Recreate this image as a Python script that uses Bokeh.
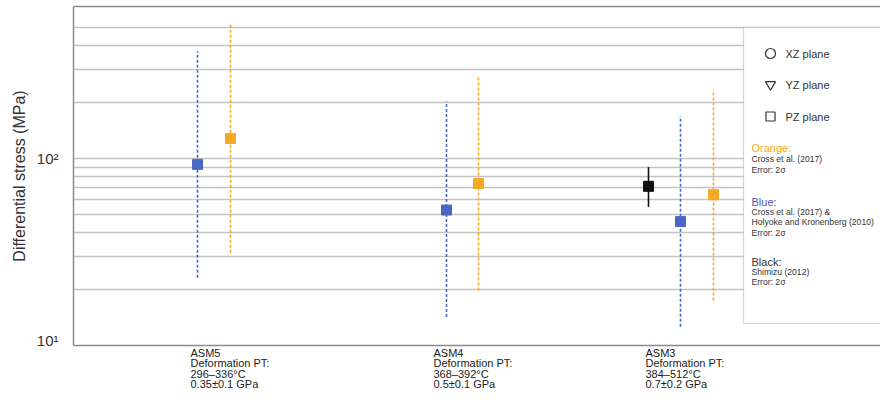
from bokeh.plotting import figure
from bokeh.layouts import column
from bokeh.models import (Range1d, FixedTicker, BoxAnnotation, Label, ColumnDataSource,
                          LinearAxis)
from bokeh.core.properties import value
from bokeh.embed import file_html
from bokeh.resources import INLINE

# ---------------- data ----------------
samples = ["ASM5", "ASM4", "ASM3"]
pt_heading = "Deformation PT:"
temperatures = ["296–336°C", "368–392°C", "384–512°C"]
pressures = ["0.35±0.1 GPa", "0.5±0.1 GPa", "0.7±0.2 GPa"]

# Blue: Cross et al. (2017) & Holyoke and Kronenberg (2010)
blue_stress = [93, 53, 46]
blue_low = [23, 14.2, 12.6]
blue_high = [375, 202, 168]

# Orange: Cross et al. (2017)
orange_stress = [128, 73.5, 64]
orange_low = [31.3, 19.7, 17.4]
orange_high = [521, 278, 233]

# Black: Shimizu (2012)
black_samples = ["ASM3"]
black_stress = [71]
black_low = [55]
black_high = [90]

y_tick_values = [10, 100]
y_tick_labels = ["10¹", "10²"]
grid_values = [20, 30, 40, 50, 60, 70, 80, 90, 100, 200, 300, 400, 500]

legend_markers = ["circle", "inverted_triangle", "square"]
legend_planes = ["XZ plane", "YZ plane", "PZ plane"]

# ---------------- layout ----------------
FONT = "Liberation Sans"
BLUE = "#4868c4"
ORANGE = "#f6a925"
BLACK = "#111111"
AXIS = "#8a8a8a"

W, H = 880, 393
LEFT, TOP, BOTTOM = 73, 6, 345
MAIN_H = 348
PX_DEC = 187.0   # pixels per decade on the y axis

# horizontal positions on a pixel-like x scale
label_left = {"ASM5": 190, "ASM4": 433, "ASM3": 645}
blue_x = {"ASM5": 197, "ASM4": 446, "ASM3": 680}
orange_x = {"ASM5": 230, "ASM4": 478, "ASM3": 713}
black_x = {"ASM3": 648}
line_y = [352, 362.5, 373, 383.5]


def ylog(py):
    return 10 ** (1 + (BOTTOM - py) / PX_DEC)


y_top = ylog(TOP)

p = figure(width=W, height=MAIN_H, y_axis_type="log",
           x_range=Range1d(LEFT, W), y_range=Range1d(10, y_top),
           output_backend="svg", toolbar_location=None,
           min_border_left=LEFT, min_border_right=0, min_border_top=TOP,
           min_border_bottom=MAIN_H - BOTTOM)
p.outline_line_color = None
p.background_fill_color = "white"
p.border_fill_color = "white"

# bottom axis: line only
p.xaxis.ticker = FixedTicker(ticks=[])
p.xaxis.major_tick_line_color = None
p.xaxis.major_tick_out = 0
p.xaxis.minor_tick_line_color = None
p.xaxis.minor_tick_out = 0
p.xaxis.major_label_standoff = 0
p.xaxis.major_label_text_font_size = "0px"
p.xaxis.axis_line_color = AXIS
p.xaxis.axis_line_width = 1.5

# top border
top_axis = LinearAxis(ticker=FixedTicker(ticks=[]), major_tick_line_color=None,
                      minor_tick_line_color=None, major_tick_out=0, minor_tick_out=0,
                      major_label_standoff=0, major_label_text_font_size="0px",
                      axis_line_color=AXIS, axis_line_width=1.5)
p.add_layout(top_axis, "above")

p.yaxis.ticker = FixedTicker(ticks=y_tick_values)
p.yaxis.major_label_overrides = {v: t for v, t in zip(y_tick_values, y_tick_labels)}
p.yaxis.major_tick_line_color = None
p.yaxis.minor_tick_line_color = None
p.yaxis.axis_line_color = AXIS
p.yaxis.axis_line_width = 1.5
p.yaxis.major_label_text_font = FONT
p.yaxis.major_label_text_font_size = "15px"
p.yaxis.major_label_text_color = "#333333"
p.yaxis.major_label_standoff = 9
p.yaxis.axis_label = "Differential stress (MPa)"
p.yaxis.axis_label_text_font = FONT
p.yaxis.axis_label_text_font_size = "16px"
p.yaxis.axis_label_text_font_style = "normal"
p.yaxis.axis_label_text_color = "#333333"
p.yaxis.axis_label_standoff = 6

p.xgrid.visible = False
p.ygrid.ticker = FixedTicker(ticks=grid_values)
p.ygrid.grid_line_color = "#c4c4c4"
p.ygrid.grid_line_width = 1.3

# legend box (under glyphs, over grid)
p.add_layout(BoxAnnotation(left=743, right=W + 20, top=ylog(27), bottom=ylog(323),
                           fill_color="white", fill_alpha=1.0,
                           line_color="#7a7a7a", line_width=1.2, level="underlay"))

# ---------------- data marks ----------------
def series(xmap, names, val, lo, hi, color, dash):
    src = ColumnDataSource(dict(x=[xmap[n] for n in names], v=val, lo=lo, hi=hi))
    p.segment(x0="x", y0="lo", x1="x", y1="hi", source=src, line_color=color,
              line_width=1.6, line_dash=dash)
    p.scatter(x="x", y="v", source=src, marker="square", size=10,
              fill_color=color, line_color=color)


series(blue_x, samples, blue_stress, blue_low, blue_high, BLUE, "3 2")
series(orange_x, samples, orange_stress, orange_low, orange_high, ORANGE, "3 2")
series(black_x, black_samples, black_stress, black_low, black_high, BLACK, "solid")

# ---------------- legend content ----------------
legend_y = [53, 84, 116]
for m, txt, py in zip(legend_markers, legend_planes, legend_y):
    p.scatter(x=[770], y=[ylog(py)], marker=m, size=10 if m != "square" else 9,
              fill_color=None, line_color="#333333", line_width=1.2)
    p.add_layout(Label(x=785, y=ylog(py), text=txt, text_font=FONT,
                       text_font_size="11px", text_color="#333333",
                       text_baseline="middle"))

legend_notes = [
    ("Orange:", 147, ORANGE, "11px"),
    ("Cross et al. (2017)", 158, "#333333", "8.6px"),
    ("Error: 2σ", 169, "#333333", "8.6px"),
    ("Blue:", 201, "#4a55b5", "11px"),
    ("Cross et al. (2017) &", 211, "#333333", "8.6px"),
    ("Holyoke and Kronenberg (2010)", 221, "#333333", "8.6px"),
    ("Error: 2σ", 232, "#333333", "8.6px"),
    ("Black:", 261, "#333333", "11px"),
    ("Shimizu (2012)", 271, "#333333", "8.6px"),
    ("Error: 2σ", 281, "#333333", "8.6px"),
]
for txt, py, col, fs in legend_notes:
    p.add_layout(Label(x=751, y=ylog(py), text=txt, text_font=FONT,
                       text_font_size=fs, text_color=col, text_baseline="middle"))

# ---------------- sample descriptions (strip below the axis) ----------------
# the column layout aligns this strip's frame with the main frame (x from LEFT to W)
q = figure(width=W, height=H - MAIN_H, x_range=Range1d(LEFT, W),
           y_range=Range1d(H, MAIN_H),
           output_backend="svg", toolbar_location=None,
           min_border_left=LEFT, min_border_right=0, min_border_top=0, min_border_bottom=0)
q.axis.visible = False
q.grid.visible = False
q.outline_line_color = None
q.background_fill_color = "white"
q.border_fill_color = "white"

xs, ys, texts = [], [], []
for i, s in enumerate(samples):
    for txt, yy in zip([s, pt_heading, temperatures[i], pressures[i]], line_y):
        xs.append(label_left[s])
        ys.append(yy)
        texts.append(txt)
q.text(x=xs, y=ys, text=texts, text_font=value(FONT), text_font_size="11px",
       text_color="#222222", text_align="left", text_baseline="middle")

layout = column(p, q, spacing=0)
open("out.html", "w").write(file_html(layout, INLINE))
